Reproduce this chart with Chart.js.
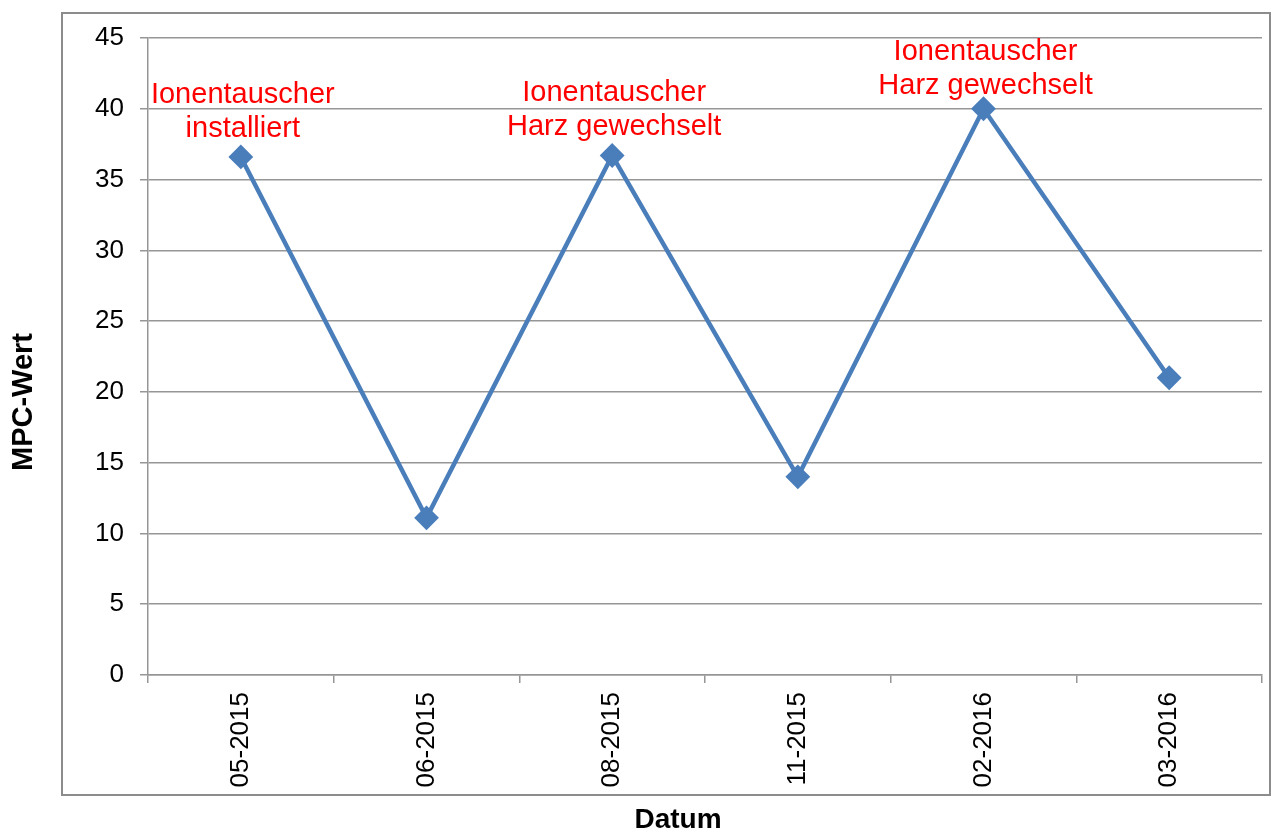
<!DOCTYPE html>
<html>
<head>
<meta charset="utf-8">
<script src="https://cdn.jsdelivr.net/npm/chart.js@4"></script>
<style>
html,body{margin:0;padding:0;background:#fff;}
#wrap{width:1271px;height:832px;position:relative;}
</style>
</head>
<body>
<div id="wrap"><canvas id="c" width="1271" height="832"></canvas></div>
<script>
const categories = ["05-2015", "06-2015", "08-2015", "11-2015", "02-2016", "03-2016"];
const mpcValues = [36.6, 11.1, 36.7, 14.0, 40.0, 21.0];
const annotations = [
  ["Ionentauscher", "installiert"],
  [],
  ["Ionentauscher", "Harz gewechselt"],
  [],
  ["Ionentauscher", "Harz gewechselt"],
  []
];
const yTitle = "MPC-Wert";
const xTitle = "Datum";

const FONT = "'Liberation Sans', Arial, sans-serif";
const GRID = "#969696";

const decorPlugin = {
  id: 'decor',
  beforeDraw(chart) {
    const ctx = chart.ctx;
    ctx.save();
    ctx.fillStyle = '#fff';
    ctx.fillRect(0, 0, chart.width, chart.height);
    ctx.strokeStyle = '#8c8c8c';
    ctx.lineWidth = 2;
    ctx.strokeRect(62, 13, 1208, 782);
    ctx.restore();
  },
  afterDraw(chart) {
    const ctx = chart.ctx;
    ctx.save();
    ctx.fillStyle = '#000';
    ctx.textAlign = 'center';
    ctx.textBaseline = 'middle';
    ctx.font = "bold 28px " + FONT;
    ctx.fillText(xTitle, 678, 820);
    ctx.translate(23.5, 402);
    ctx.rotate(-Math.PI / 2);
    ctx.font = "bold 29px " + FONT;
    ctx.fillText(yTitle, 0, 0);
    ctx.restore();
    const meta = chart.getDatasetMeta(0);
    ctx.save();
    ctx.fillStyle = '#ff0000';
    ctx.font = "29px " + FONT;
    ctx.textAlign = 'center';
    ctx.textBaseline = 'middle';
    annotations.forEach((lines, i) => {
      if (!lines.length) return;
      const pt = meta.data[i];
      const n = lines.length;
      const lineGap = 34;
      let lastY = pt.y - 28;
      let firstY = lastY - (n - 1) * lineGap;
      const minTop = 52;
      if (firstY < minTop) { lastY += minTop - firstY; firstY = minTop; }
      lines.forEach((t, j) => {
        ctx.fillText(t, pt.x + 2, firstY + j * lineGap);
      });
    });
    ctx.restore();
  }
};

new Chart(document.getElementById('c'), {
  type: 'line',
  data: {
    labels: categories,
    datasets: [{
      data: mpcValues,
      borderColor: '#4a7ebb',
      backgroundColor: '#4a7ebb',
      borderWidth: 4.5,
      pointStyle: 'rectRot',
      pointRadius: 11,
      pointBorderWidth: 2,
      pointBackgroundColor: '#4a7ebb',
      pointBorderColor: '#4a7ebb',
      tension: 0,
      fill: false
    }]
  },
  options: {
    responsive: false,
    animation: false,
    devicePixelRatio: 1,
    layout: { autoPadding: false, padding: { left: 0, right: 9, top: 38, bottom: 0 } },
    plugins: { legend: { display: false }, tooltip: { enabled: false } },
    scales: {
      x: {
        type: 'category',
        offset: true,
        afterFit(s) { s.height = 157; s.paddingLeft = 0; s.paddingRight = 0; },
        grid: { offset: true, drawOnChartArea: false, drawTicks: true, tickLength: 8, color: GRID, lineWidth: 1.5 },
        border: { display: true, color: GRID, width: 1.5 },
        ticks: { minRotation: 90, maxRotation: 90, padding: 9, color: '#000', font: { family: FONT, size: 26 } }
      },
      y: {
        min: 0, max: 45,
        afterFit(s) { s.width = 148; s.paddingTop = 0; s.paddingBottom = 0; },
        grid: { drawTicks: true, tickLength: 8, color: GRID, lineWidth: 1.5 },
        border: { display: true, color: GRID, width: 1.5 },
        ticks: { stepSize: 5, padding: 16, color: '#000', font: { family: FONT, size: 26 } }
      }
    }
  },
  plugins: [decorPlugin]
});
</script>
</body>
</html>
